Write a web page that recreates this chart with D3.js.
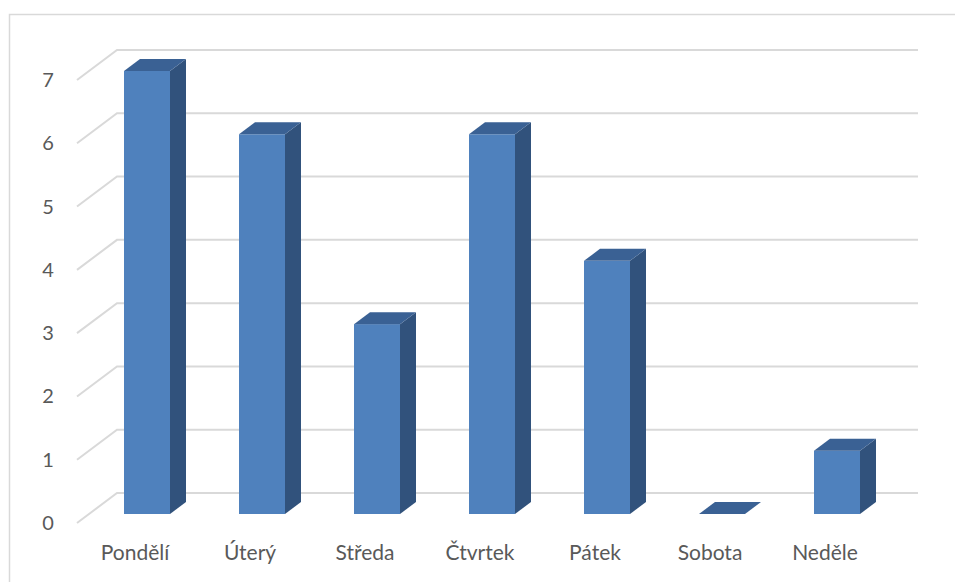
<!DOCTYPE html>
<html>
<head>
<meta charset="utf-8">
<script src="https://cdn.jsdelivr.net/npm/d3@7"></script>
<style>
  html, body { margin: 0; padding: 0; background: #fff; }
  svg { display: block; }
  text { font-family: Lato, "Open Sans", sans-serif; fill: #595959; }
</style>
</head>
<body>
<svg id="chart" width="955" height="582"></svg>
<script>
// Days of the week and their counts
const categories = ["Pondělí", "Úterý", "Středa", "Čtvrtek", "Pátek", "Sobota", "Neděle"];
const values = [7, 6, 3, 6, 4, 0, 1];
const yTicks = [0, 1, 2, 3, 4, 5, 6, 7];

const svg = d3.select("#chart");
const W = 955, H = 582;

// Outer chart frame
svg.append("rect")
  .attr("x", 9.5).attr("y", 14.5)
  .attr("width", W + 20).attr("height", H + 20)
  .attr("fill", "none").attr("stroke", "#d9d9d9").attr("stroke-width", 1.5);

// Front-plane scales; the 3D depth is an oblique offset
const x = d3.scaleBand().domain(categories).range([89.5, 894.5])
  .paddingInner(0.6).paddingOuter(0.3);
const y = d3.scaleLinear().domain([0, 7]).range([514, 71]);

const depth = { dx: 16, dy: -12 };       // bar depth
const wall = { dx: 40, dy: -30 };        // floor-to-back-wall depth
const wallFrontX = 77, wallRight = 918;
const wallLift = 9;                       // front edge of the side wall below the bar base plane

// Gridlines: diagonal along the side wall, then across the back wall
const grid = svg.append("g").attr("fill", "none")
  .attr("stroke", "#d9d9d9").attr("stroke-width", 2);
yTicks.forEach(v => {
  const y0 = y(v) + wallLift;
  grid.append("path")
    .attr("d", `M${wallFrontX},${y0}L${wallFrontX + wall.dx},${y0 + wall.dy}L${wallRight},${y0 + wall.dy}`);
});

// Y axis labels
svg.append("g").selectAll("text").data(yTicks).join("text")
  .attr("x", 48).attr("y", v => y(v) + wallLift)
  .attr("dy", "0.35em").attr("text-anchor", "middle")
  .attr("font-size", 20)
  .text(d => d);

// Columns: front, side and top faces
const cols = svg.append("g");
categories.forEach((c, i) => {
  const v = values[i];
  const x0 = x(c), x1 = x0 + x.bandwidth();
  const yb = y(0), yt = y(v);
  const g = cols.append("g");
  if (v > 0) {
    g.append("path").attr("fill", "#31527c")
      .attr("d", `M${x1},${yt}L${x1 + depth.dx},${yt + depth.dy}L${x1 + depth.dx},${yb + depth.dy}L${x1},${yb}Z`);
    g.append("rect").attr("fill", "#4f81bd")
      .attr("x", x0).attr("y", yt).attr("width", x1 - x0).attr("height", yb - yt);
  }
  g.append("path").attr("fill", "#3a6194")
    .attr("d", `M${x0},${yt}L${x0 + depth.dx},${yt + depth.dy}L${x1 + depth.dx},${yt + depth.dy}L${x1},${yt}Z`);
});

// Category labels
svg.append("g").selectAll("text").data(categories).join("text")
  .attr("x", d => x(d) + x.bandwidth() / 2 - 12)
  .attr("y", 553).attr("dy", "0.35em").attr("text-anchor", "middle")
  .attr("font-size", 21)
  .text(d => d);
</script>
</body>
</html>
